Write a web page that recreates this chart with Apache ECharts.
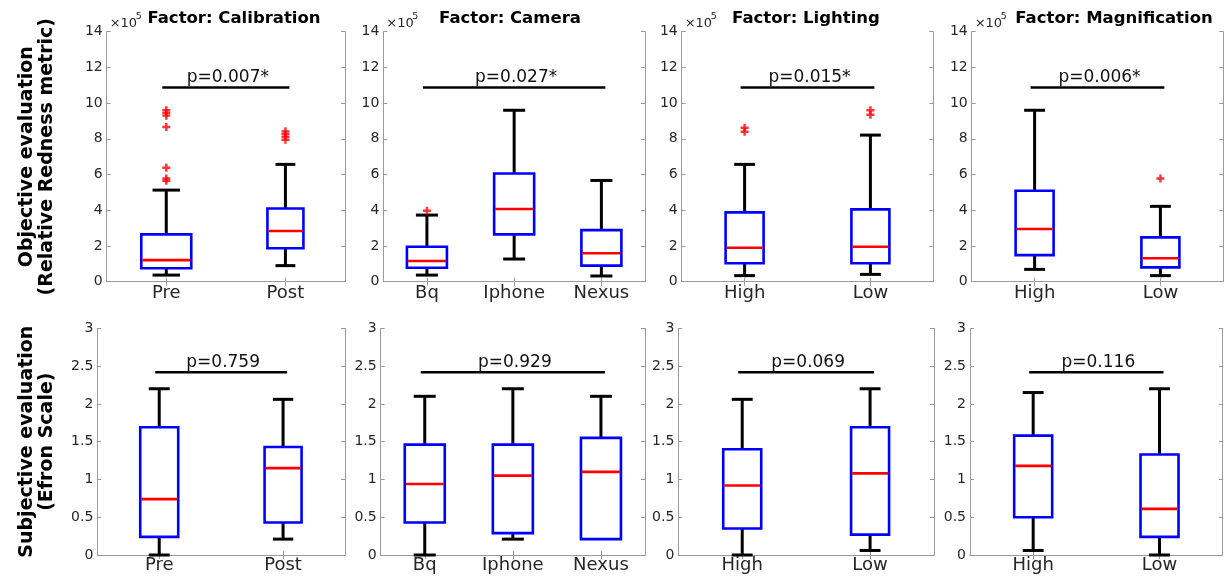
<!DOCTYPE html>
<html>
<head>
<meta charset="utf-8">
<script src="https://cdn.jsdelivr.net/npm/echarts@6/dist/echarts.min.js"></script>
<style>
  html, body { margin: 0; padding: 0; background: #fff; }
  #chart { width: 1229px; height: 577px; }
</style>
</head>
<body>
<div id="chart"></div>
<script>
// categories per factor
var calibCats = ['Pre', 'Post'];
var cameraCats = ['Bq', 'Iphone', 'Nexus'];
var lightCats = ['High', 'Low'];
var magnCats = ['High', 'Low'];

// objective evaluation (x10^5): [lower whisker, q1, median, q3, upper whisker]
var objCalib = [[0.37, 0.75, 1.21, 2.65, 5.13], [0.9, 1.87, 2.84, 4.1, 6.57]];
var objCamera = [[0.37, 0.78, 1.16, 1.96, 3.73], [1.27, 2.65, 4.07, 6.06, 9.6], [0.32, 0.9, 1.59, 2.89, 5.67]];
var objLight = [[0.34, 1.03, 1.9, 3.88, 6.57], [0.41, 1.03, 1.96, 4.05, 8.21]];
var objMagn = [[0.69, 1.49, 2.95, 5.09, 9.6], [0.34, 0.8, 1.31, 2.48, 4.22]];

// outliers: [category index, value]
var objCalibOut = [[0, 5.65], [0, 5.78], [0, 6.38], [0, 8.66], [0, 9.3], [0, 9.45], [0, 9.6], [1, 7.95], [1, 8.12], [1, 8.28], [1, 8.42]];
var objCameraOut = [[0, 3.97]];
var objLightOut = [[0, 8.4], [0, 8.62], [1, 9.35], [1, 9.6]];
var objMagnOut = [[1, 5.78]];

// subjective evaluation (Efron scale)
var subjCalib = [[0, 0.24, 0.74, 1.69, 2.2], [0.21, 0.43, 1.15, 1.43, 2.06]];
var subjCamera = [[0, 0.43, 0.94, 1.46, 2.1], [0.21, 0.29, 1.05, 1.46, 2.2], [0.21, 0.21, 1.1, 1.55, 2.1]];
var subjLight = [[0, 0.35, 0.92, 1.4, 2.06], [0.06, 0.27, 1.08, 1.69, 2.2]];
var subjMagn = [[0.06, 0.5, 1.18, 1.58, 2.15], [0, 0.24, 0.61, 1.33, 2.2]];

var objPValues = ['p=0.007*', 'p=0.027*', 'p=0.015*', 'p=0.006*'];
var subjPValues = ['p=0.759', 'p=0.929', 'p=0.069', 'p=0.116'];
var objSigLevel = 10.88;
var subjSigLevel = 2.42;

var factorNames = ['Factor: Calibration', 'Factor: Camera', 'Factor: Lighting', 'Factor: Magnification'];

// layout
var FONT = '"DejaVu Sans", Verdana, sans-serif';
var frameColor = '#9a9a9a';
var topRow = { top: 31.7, height: 250, lefts: [106.7, 383.3, 681.7, 971.7], widths: [238.3, 261.7, 251.6, 251.6] };
var botRow = { top: 328.3, height: 226.7, lefts: [97.3, 380.7, 678.3, 970], widths: [247.7, 264.3, 255.7, 252.7] };
var titleCenters = [234, 510, 806, 1114];
var objBoxPx = [[50, 36], [40, 40, 40], [38, 38], [38, 38]];
var subjBoxPx = [[38, 37], [40, 40, 40], [38, 38], [38, 38]];

var panels = [
  { cats: calibCats, box: objCalib, out: objCalibOut, p: objPValues[0], sig: objSigLevel, row: 0, col: 0 },
  { cats: cameraCats, box: objCamera, out: objCameraOut, p: objPValues[1], sig: objSigLevel, row: 0, col: 1 },
  { cats: lightCats, box: objLight, out: objLightOut, p: objPValues[2], sig: objSigLevel, row: 0, col: 2 },
  { cats: magnCats, box: objMagn, out: objMagnOut, p: objPValues[3], sig: objSigLevel, row: 0, col: 3 },
  { cats: calibCats, box: subjCalib, out: [], p: subjPValues[0], sig: subjSigLevel, row: 1, col: 0 },
  { cats: cameraCats, box: subjCamera, out: [], p: subjPValues[1], sig: subjSigLevel, row: 1, col: 1 },
  { cats: lightCats, box: subjLight, out: [], p: subjPValues[2], sig: subjSigLevel, row: 1, col: 2 },
  { cats: magnCats, box: subjMagn, out: [], p: subjPValues[3], sig: subjSigLevel, row: 1, col: 3 }
];

function boxRenderer(widths) {
  return function (params, api) {
    var c = api.value(0);
    var pts = [1, 2, 3, 4, 5].map(function (k) { return api.coord([c, api.value(k)]); });
    var x = pts[0][0];
    var w = widths[params.dataIndex];
    var cap = w * 0.55;
    var black = { stroke: '#000', lineWidth: 3 };
    var kids = [
      { type: 'line', shape: { x1: x, y1: pts[3][1], x2: x, y2: pts[4][1] }, style: black },
      { type: 'line', shape: { x1: x - cap / 2, y1: pts[4][1], x2: x + cap / 2, y2: pts[4][1] }, style: black }
    ];
    if (api.value(1) < api.value(2)) {
      kids.push({ type: 'line', shape: { x1: x, y1: pts[0][1], x2: x, y2: pts[1][1] }, style: black });
      kids.push({ type: 'line', shape: { x1: x - cap / 2, y1: pts[0][1], x2: x + cap / 2, y2: pts[0][1] }, style: black });
    }
    kids.push({ type: 'rect', shape: { x: x - w / 2, y: pts[3][1], width: w, height: pts[1][1] - pts[3][1] },
      style: { fill: 'none', stroke: '#0000ff', lineWidth: 2.6 } });
    kids.push({ type: 'line', shape: { x1: x - w / 2 + 1, y1: pts[2][1], x2: x + w / 2 - 1, y2: pts[2][1] },
      style: { stroke: '#ff0000', lineWidth: 2.6 } });
    return { type: 'group', children: kids };
  };
}

function sigRenderer(params, api) {
  var a = api.coord([api.value(0), api.value(2)]);
  var b = api.coord([api.value(1), api.value(2)]);
  return {
    type: 'group',
    children: [
      { type: 'line', shape: { x1: a[0] - 4, y1: a[1], x2: b[0] + 4, y2: b[1] }, style: { stroke: '#000', lineWidth: 2.5 } },
      { type: 'text', style: { text: api.value(3), x: (a[0] + b[0]) / 2 + 2, y: a[1] - 1, align: 'center', verticalAlign: 'bottom',
        fill: '#111', font: '17px ' + FONT } }
    ]
  };
}

var grid = [], xAxis = [], yAxis = [], series = [], graphic = [];

panels.forEach(function (pn, i) {
  var r = pn.row === 0 ? topRow : botRow;
  grid.push({ left: r.lefts[pn.col], top: r.top, width: r.widths[pn.col], height: r.height });
  var axisLine = { show: true, lineStyle: { color: frameColor, width: 1 } };
  var tick = { show: true, inside: true, length: 4, lineStyle: { color: frameColor } };
  xAxis.push({ type: 'category', gridIndex: i, position: 'bottom', data: pn.cats, boundaryGap: true,
    axisLine: axisLine, axisTick: Object.assign({ alignWithLabel: true }, tick),
    axisLabel: { color: '#262626', fontSize: 18, fontFamily: FONT, margin: pn.row === 0 ? 3 : 1 } });
  xAxis.push({ type: 'category', gridIndex: i, position: 'top', data: pn.cats, boundaryGap: true,
    axisLine: axisLine, axisTick: Object.assign({ alignWithLabel: true }, tick), axisLabel: { show: false } });
  var yMax = pn.row === 0 ? 14 : 3;
  var yInt = pn.row === 0 ? 2 : 0.5;
  var yl = { type: 'value', gridIndex: i, position: 'left', min: 0, max: yMax, interval: yInt,
    axisLine: axisLine, axisTick: tick, splitLine: { show: false },
    axisLabel: { color: '#262626', fontSize: 14, fontFamily: FONT, margin: 4 } };
  if (i === 0) {
    yl.name = 'Objective evaluation\n(Relative Redness metric)';
  } else if (i === 4) {
    yl.name = 'Subjective evaluation\n(Efron Scale)';
  }
  if (yl.name) {
    yl.nameLocation = 'middle';
    yl.nameRotate = 90;
    yl.nameGap = pn.row === 0 ? 50 : 40;
    yl.nameTextStyle = { fontFamily: FONT, fontWeight: 'bold', fontSize: 19, lineHeight: 20, color: '#000' };
  }
  yAxis.push(yl);
  yAxis.push({ type: 'value', gridIndex: i, position: 'right', min: 0, max: yMax, interval: yInt,
    axisLine: axisLine, axisTick: tick, splitLine: { show: false }, axisLabel: { show: false } });

  var widths = (pn.row === 0 ? objBoxPx : subjBoxPx)[pn.col];
  series.push({
    type: 'custom', xAxisIndex: 2 * i, yAxisIndex: 2 * i,
    renderItem: boxRenderer(widths),
    encode: { x: 0, y: [1, 2, 3, 4, 5] },
    data: pn.box.map(function (b, k) { return [k].concat(b); }),
    silent: true, z: 3
  });
  if (pn.out.length) {
    series.push({
      type: 'scatter', xAxisIndex: 2 * i, yAxisIndex: 2 * i,
      symbol: 'path://M2.8,0H5.2V2.8H8V5.2H5.2V8H2.8V5.2H0V2.8H2.8Z', symbolSize: 8,
      itemStyle: { color: '#ff0000' }, data: pn.out, silent: true, z: 4
    });
  }
  series.push({
    type: 'custom', xAxisIndex: 2 * i, yAxisIndex: 2 * i,
    renderItem: sigRenderer,
    encode: { x: [0, 1], y: 2 },
    data: [[0, pn.cats.length - 1, pn.sig, pn.p]],
    silent: true, z: 5
  });

  if (pn.row === 0) {
    graphic.push({ type: 'text', x: titleCenters[pn.col], y: 19,
      style: { text: factorNames[pn.col], font: 'bold 16.5px ' + FONT, fill: '#000', align: 'center', verticalAlign: 'middle' } });
    graphic.push({ type: 'text', x: r.lefts[pn.col] + 3, y: 17,
      style: { text: '×10', font: '13px ' + FONT, fill: '#262626' } });
    graphic.push({ type: 'text', x: r.lefts[pn.col] + 29, y: 12,
      style: { text: '5', font: '9.5px ' + FONT, fill: '#262626' } });
  }
});

var chart = echarts.init(document.getElementById('chart'));
chart.setOption({
  animation: false,
  backgroundColor: '#fff',
  grid: grid,
  xAxis: xAxis,
  yAxis: yAxis,
  series: series,
  graphic: graphic
});
</script>
</body>
</html>
